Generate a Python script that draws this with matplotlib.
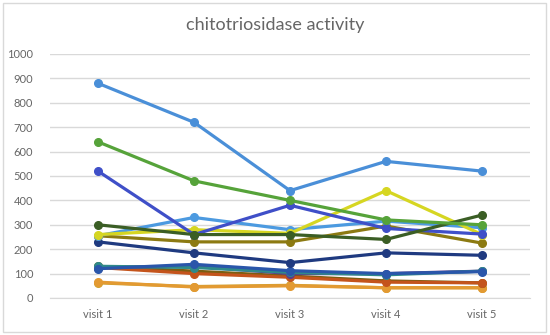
import matplotlib.pyplot as plt
from matplotlib.patches import Rectangle

visits = ["visit 1", "visit 2", "visit 3", "visit 4", "visit 5"]

# one list per patient
p1 = [880, 720, 440, 560, 520]
p2 = [640, 480, 400, 320, 300]
p3 = [520, 260, 380, 285, 262]
p4 = [255, 330, 280, 315, 288]
p5 = [260, 280, 265, 440, 260]
p6 = [300, 260, 260, 240, 340]
p7 = [255, 230, 230, 295, 225]
p8 = [230, 185, 145, 185, 175]
p9 = [130, 125, 105, 95, 110]
p10 = [120, 138, 112, 100, 108]
p11 = [125, 130, 100, 100, 110]
p12 = [125, 100, 85, 65, 62]
p13 = [130, 110, 90, 70, 62]
p14 = [65, 45, 50, 42, 42]
p15 = [62, 47, 52, 42, 42]

series = [p15, p14, p13, p12, p11, p9, p10, p8, p7, p4, p5, p3, p6, p2, p1]
colors = ["#cfa232", "#e39a32", "#7b5e12", "#c4541c", "#5c3c8c", "#2f8a8a",
          "#2a56aa", "#1f3a80", "#8c7a12", "#4c9ae0", "#d6d622", "#3f4fc8",
          "#3b5e25", "#56a33a", "#4a8fd8"]

plt.rcParams['font.family'] = ['Lato', 'DejaVu Sans']

fig = plt.figure(figsize=(5.5, 3.35), dpi=100)
ax = fig.add_axes([50 / 550, 37 / 335, 480 / 550, 244 / 335])

x = list(range(len(visits)))
for vals, c in zip(series, colors):
    ax.plot(x, vals, color=c, linewidth=2.3, marker="o", markersize=5.5,
            solid_capstyle="round")

ax.set_xlim(-0.5, 4.5)
ax.set_ylim(0, 1000)
ax.set_yticks(range(0, 1001, 100))
ax.set_xticks(x)
ax.set_xticklabels(visits)
ax.yaxis.grid(True, color="#d9d9d9", linewidth=1)
ax.set_axisbelow(True)
for s in ["top", "right", "left"]:
    ax.spines[s].set_visible(False)
ax.spines["bottom"].set_color("#d9d9d9")
ax.tick_params(axis="both", length=0, labelsize=8, labelcolor="#666666")
ax.tick_params(axis="y", pad=12)
ax.tick_params(axis="x", pad=8)

fig.text(275 / 550, 1 - 25 / 335, "chitotriosidase activity", ha="center",
         va="center", fontsize=13, color="#666666")

fig.patches.append(Rectangle((3 / 550, 3 / 335), 543 / 550, 329 / 335,
                             transform=fig.transFigure, fill=False,
                             edgecolor="#d9d9d9", linewidth=1))

fig.savefig("out.png", dpi=100)
